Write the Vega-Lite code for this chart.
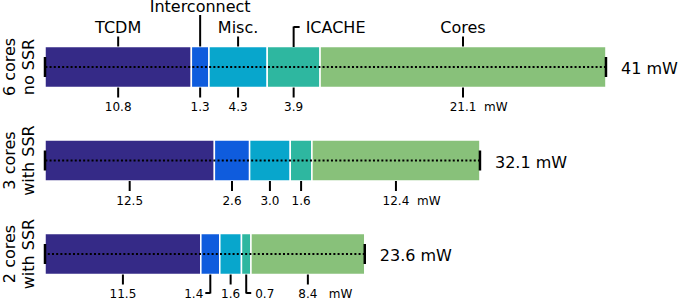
{
  "$schema": "https://vega.github.io/schema/vega-lite/v6.json",
  "width": 638,
  "height": 298,
  "autosize": {"type": "none"},
  "padding": {"left": 40, "top": 0, "right": 0, "bottom": 0},
  "config": {"font": "DejaVu Sans", "view": {"stroke": null}},
  "datasets": {
    "seg": [
      {"config": "6 cores\nno SSR", "part": "TCDM", "value": 10.8},
      {"config": "6 cores\nno SSR", "part": "Interconnect", "value": 1.3},
      {"config": "6 cores\nno SSR", "part": "Misc.", "value": 4.3},
      {"config": "6 cores\nno SSR", "part": "ICACHE", "value": 3.9},
      {"config": "6 cores\nno SSR", "part": "Cores", "value": 21.1},
      {"config": "3 cores\nwith SSR", "part": "TCDM", "value": 12.5},
      {"config": "3 cores\nwith SSR", "part": "Interconnect", "value": 2.6},
      {"config": "3 cores\nwith SSR", "part": "Misc.", "value": 3.0},
      {"config": "3 cores\nwith SSR", "part": "ICACHE", "value": 1.6},
      {"config": "3 cores\nwith SSR", "part": "Cores", "value": 12.4},
      {"config": "2 cores\nwith SSR", "part": "TCDM", "value": 11.5},
      {"config": "2 cores\nwith SSR", "part": "Interconnect", "value": 1.4},
      {"config": "2 cores\nwith SSR", "part": "Misc.", "value": 1.6},
      {"config": "2 cores\nwith SSR", "part": "ICACHE", "value": 0.7},
      {"config": "2 cores\nwith SSR", "part": "Cores", "value": 8.4}
    ],
    "tot": [
      {"config": "6 cores\nno SSR", "total": 41.4, "label": "41 mW"},
      {"config": "3 cores\nwith SSR", "total": 32.1, "label": "32.1 mW"},
      {"config": "2 cores\nwith SSR", "total": 23.6, "label": "23.6 mW"}
    ]
  },
  "encoding": {
    "y": {
      "field": "config", "type": "nominal",
      "scale": {"domain": ["6 cores\nno SSR", "3 cores\nwith SSR", "2 cores\nwith SSR"], "range": [46.5, 274.5], "paddingInner": 0.5615, "paddingOuter": 0},
      "axis": {"title": null, "domain": false, "ticks": false, "labelAngle": 270, "labelAlign": "center", "labelBaseline": "bottom", "labelPadding": 23, "labelFontSize": 16, "labelLineHeight": 19.5, "labelColor": "black", "labelExpr": "split(datum.label, '\\n')"}
    }
  },
  "layer": [
    {
      "data": {"name": "seg"},
      "transform": [
        {"stack": "value", "groupby": ["config"], "as": ["x0", "x1"]},
        {"calculate": "(datum.x0 + datum.x1) / 2", "as": "mid"},
        {"calculate": "substring(datum.config, 0, 1)", "as": "n"}
      ],
      "layer": [
        {
          "mark": {"type": "bar", "stroke": "white", "strokeWidth": 1.5},
          "encoding": {
            "x": {"field": "x0", "type": "quantitative", "scale": {"domain": [-0.369, 46.716], "nice": false, "zero": false}, "axis": null},
            "x2": {"field": "x1"},
            "color": {"field": "part", "type": "nominal", "scale": {"domain": ["TCDM", "Interconnect", "Misc.", "ICACHE", "Cores"], "range": ["#352a87", "#0f5cdd", "#08a6cc", "#2eb7a0", "#88c17a"]}, "legend": null}
          }
        },
        {
          "transform": [{"filter": "datum.part == 'TCDM'"}],
          "mark": {"type": "tick", "color": "black", "opacity": 1, "size": 20, "thickness": 2.5},
          "encoding": {"x": {"field": "x0", "type": "quantitative"}}
        },
        {
          "transform": [{"filter": "datum.n == '6' && (datum.part == 'TCDM' || datum.part == 'Misc.' || datum.part == 'Cores')"}],
          "layer": [
            {"mark": {"type": "tick", "color": "black", "opacity": 1, "size": 10, "thickness": 2, "yOffset": -25.5},
             "encoding": {"x": {"field": "mid", "type": "quantitative"}}},
            {"mark": {"type": "text", "fontSize": 16, "align": "center", "baseline": "alphabetic", "dy": -34, "color": "black"},
             "encoding": {"x": {"field": "mid", "type": "quantitative"}, "text": {"field": "part"}}}
          ]
        },
        {
          "transform": [{"filter": "datum.n == '6' && datum.part == 'Interconnect'"}],
          "layer": [
            {"mark": {"type": "tick", "color": "black", "opacity": 1, "size": 31.5, "thickness": 2, "yOffset": -36.25},
             "encoding": {"x": {"field": "mid", "type": "quantitative"}}},
            {"mark": {"type": "text", "fontSize": 16, "align": "center", "baseline": "alphabetic", "dy": -54.5, "color": "black"},
             "encoding": {"x": {"field": "mid", "type": "quantitative"}, "text": {"field": "part"}}}
          ]
        },
        {
          "transform": [{"filter": "datum.n == '6' && datum.part == 'ICACHE'"}],
          "layer": [
            {"mark": {"type": "tick", "color": "black", "opacity": 1, "size": 20.5, "thickness": 2, "yOffset": -30.25},
             "encoding": {"x": {"field": "mid", "type": "quantitative"}}},
            {"mark": {"type": "tick", "orient": "horizontal", "color": "black", "opacity": 1, "size": 6, "thickness": 2, "xOffset": 3, "yOffset": -40},
             "encoding": {"x": {"field": "mid", "type": "quantitative"}}},
            {"mark": {"type": "text", "fontSize": 16, "align": "left", "baseline": "alphabetic", "dx": 12, "dy": -34, "color": "black"},
             "encoding": {"x": {"field": "mid", "type": "quantitative"}, "text": {"field": "part"}}}
          ]
        },
        {
          "transform": [{"filter": "!(datum.n == '2' && (datum.part == 'Interconnect' || datum.part == 'ICACHE'))"}],
          "layer": [
            {"mark": {"type": "tick", "color": "black", "opacity": 1, "size": 10, "thickness": 2, "yOffset": 25.5},
             "encoding": {"x": {"field": "mid", "type": "quantitative"}}},
            {"mark": {"type": "text", "fontSize": 12, "align": "center", "baseline": "alphabetic", "dy": 44, "color": "black"},
             "encoding": {"x": {"field": "mid", "type": "quantitative"}, "text": {"field": "value", "type": "quantitative", "format": ".1f"}}}
          ]
        },
        {
          "transform": [{"filter": "datum.n == '2' && (datum.part == 'Interconnect' || datum.part == 'ICACHE')"}],
          "mark": {"type": "tick", "color": "black", "opacity": 1, "size": 19, "thickness": 2, "yOffset": 30},
          "encoding": {"x": {"field": "mid", "type": "quantitative"}}
        },
        {
          "transform": [{"filter": "datum.n == '2' && datum.part == 'Interconnect'"}],
          "layer": [
            {"mark": {"type": "tick", "orient": "horizontal", "color": "black", "opacity": 1, "size": 5, "thickness": 2, "xOffset": -2.5, "yOffset": 39},
             "encoding": {"x": {"field": "mid", "type": "quantitative"}}},
            {"mark": {"type": "text", "fontSize": 12, "align": "right", "baseline": "alphabetic", "dx": -7, "dy": 44, "color": "black"},
             "encoding": {"x": {"field": "mid", "type": "quantitative"}, "text": {"field": "value", "type": "quantitative", "format": ".1f"}}}
          ]
        },
        {
          "transform": [{"filter": "datum.n == '2' && datum.part == 'ICACHE'"}],
          "layer": [
            {"mark": {"type": "tick", "orient": "horizontal", "color": "black", "opacity": 1, "size": 5, "thickness": 2, "xOffset": 2.5, "yOffset": 39},
             "encoding": {"x": {"field": "mid", "type": "quantitative"}}},
            {"mark": {"type": "text", "fontSize": 12, "align": "left", "baseline": "alphabetic", "dx": 9, "dy": 44, "color": "black"},
             "encoding": {"x": {"field": "mid", "type": "quantitative"}, "text": {"field": "value", "type": "quantitative", "format": ".1f"}}}
          ]
        },
        {
          "transform": [{"filter": "datum.part == 'Cores'"}],
          "mark": {"type": "text", "fontSize": 12, "align": "left", "baseline": "alphabetic", "dx": 21, "dy": 44, "color": "black", "text": "mW"},
          "encoding": {"x": {"field": "mid", "type": "quantitative"}}
        }
      ]
    },
    {
      "data": {"name": "tot"},
      "layer": [
        {"mark": {"type": "rule", "color": "black", "strokeWidth": 2, "strokeDash": [2, 2.2]},
         "encoding": {"x": {"field": "total", "type": "quantitative"}, "x2": {"datum": 0}}},
        {"mark": {"type": "tick", "color": "black", "opacity": 1, "size": 20, "thickness": 2.5},
         "encoding": {"x": {"field": "total", "type": "quantitative"}}},
        {"mark": {"type": "text", "fontSize": 16, "align": "left", "baseline": "alphabetic", "dx": 15, "dy": 7, "color": "black"},
         "encoding": {"x": {"field": "total", "type": "quantitative"}, "text": {"field": "label"}}}
      ]
    }
  ]
}
